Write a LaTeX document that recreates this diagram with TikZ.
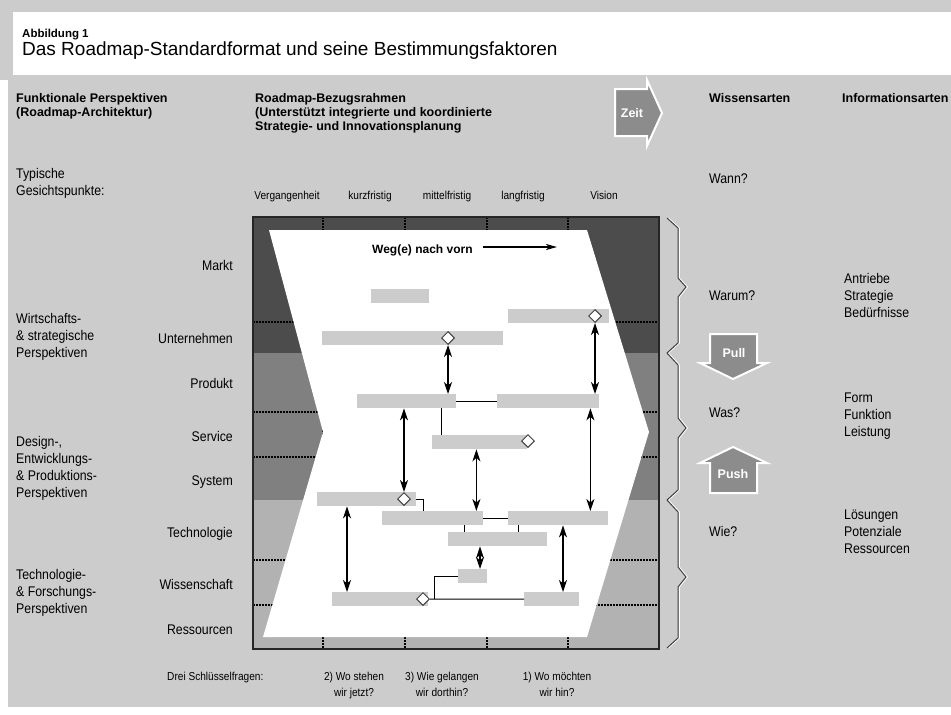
\documentclass[tikz,border=0pt]{standalone}
\usepackage{fontspec}
\setmainfont{Liberation Sans}
\newfontfamily\condfont{Liberation Sans}[FakeStretch=0.88]
\usetikzlibrary{shapes.geometric, arrows.meta, positioning, calc}

\definecolor{panel}{gray}{0.80}
\definecolor{banddark}{gray}{0.30}
\definecolor{bandmid}{gray}{0.50}
\definecolor{bandlight}{gray}{0.70}
\definecolor{bargray}{gray}{0.80}
\definecolor{signgray}{gray}{0.55}

\newcommand\textlines[2][l]{\begin{tabular}[t]{@{}#1@{}}#2\end{tabular}}
\newcommand\bracepath{(667,218) -- (678,228) -- (678,278) -- (686,287) -- (678,297) -- (678,343) -- (667,353) -- (678,365) -- (678,418) -- (686,428) -- (678,438) -- (678,490) -- (667,500) -- (678,512) -- (678,567) -- (686,577) -- (678,587) -- (678,638) -- (667,648)}

\begin{document}
\begin{tikzpicture}[x=1pt, y=-1pt,
  every node/.style={inner sep=0pt},
  txt/.style={font=\condfont\fontsize{14}{17}\selectfont},
  small/.style={font=\condfont\fontsize{11.5}{16.7}\selectfont},
  head/.style={font=\bfseries\fontsize{12.5}{14.3}\selectfont, anchor=base west},
  bar/.style={fill=bargray, minimum height=14pt, anchor=north west},
  mile/.style={diamond, draw=black!75, fill=white, line width=1pt, minimum size=13pt},
  link/.style={{Stealth[length=12pt,width=8pt,inset=3.5pt]}-{Stealth[length=12pt,width=8pt,inset=3.5pt]}, line width=1.2pt},
  conn/.style={line width=1pt},
  sep/.style={line width=1.3pt, dash pattern=on 1.8pt off 1.2pt},
  brace/.style={line width=1pt, black!75, line join=miter},
  sign/.style={fill=signgray, draw=white, line width=2pt, line join=miter},
  signtxt/.style={font=\bfseries\fontsize{12.5}{14}\selectfont, text=white, anchor=base}]

  \useasboundingbox (0,0) rectangle (951,715);
  \fill[white] (0,0) rectangle (951,715);
  \fill[panel] (0,0) rectangle (951,80);
  \fill[panel] (8,80) rectangle (951,707);
  \fill[white] (13,12) rectangle (951,75);

  \node (abb) [anchor=base west, font=\bfseries\fontsize{11.5}{14}\selectfont] at (22,37) {Abbildung 1};
  \node (title) [anchor=base west, font=\fontsize{19}{22}\selectfont] at (22,55) {Das Roadmap-Standardformat und seine Bestimmungsfaktoren};

  \node (funk) [head] at (16,102) {\textlines{Funktionale Perspektiven\\(Roadmap-Architektur)}};
  \node (bezug) [head] at (255,102) {\textlines{Roadmap-Bezugsrahmen\\(Unterstützt integrierte und koordinierte\\Strategie- und Innovationsplanung}};
  \node (wiss) [head] at (709,102) {Wissensarten};
  \node (info) [head] at (842,102) {Informationsarten};

  \draw[sign] (615,89) -- (647,89) -- (647,80) -- (662,113) -- (647,146) -- (647,136) -- (615,136) -- cycle;
  \node (zeit) [signtxt] at (632,117) {Zeit};

  \node (typ) [txt, anchor=base west] at (16,178) {\textlines{Typische\\Gesichtspunkte:}};
  \node (wirt) [txt, anchor=base west] at (16,323) {\textlines{Wirtschafts-\\\& strategische\\Perspektiven}};
  \node (design) [txt, anchor=base west] at (16,446) {\textlines{Design-,\\Entwicklungs-\\\& Produktions-\\Perspektiven}};
  \node (techf) [txt, anchor=base west] at (16,579) {\textlines{Technologie-\\\& Forschungs-\\Perspektiven}};

  \node (markt) [txt, anchor=base east] at (233,270) {Markt};
  \node (untern) [txt, anchor=base east] at (233,343) {Unternehmen};
  \node (produkt) [txt, anchor=base east] at (233,388) {Produkt};
  \node (service) [txt, anchor=base east] at (233,441) {Service};
  \node (system) [txt, anchor=base east] at (233,485) {System};
  \node (techno) [txt, anchor=base east] at (233,537) {Technologie};
  \node (wissen) [txt, anchor=base east] at (233,589) {Wissenschaft};
  \node (ressou) [txt, anchor=base east] at (233,634) {Ressourcen};

  \node (verg) [small, anchor=base] at (287,199.5) {Vergangenheit};
  \node (kurz) [small, anchor=base] at (370,199.5) {kurzfristig};
  \node (mittel) [small, anchor=base] at (447,199.5) {mittelfristig};
  \node (lang) [small, anchor=base] at (523,199.5) {langfristig};
  \node (vision) [small, anchor=base] at (604,199.5) {Vision};

  \fill[banddark] (253,217) rectangle (659,353);
  \fill[bandmid] (253,353) rectangle (659,500);
  \fill[bandlight] (253,500) rectangle (659,649);
  \draw[sep] (253,322) -- (659,322) (253,412) -- (659,412) (253,457) -- (659,457)
    (253,560) -- (659,560) (253,605) -- (659,605);
  \draw[sep] (323,217) -- (323,649) (405,217) -- (405,649) (487,217) -- (487,649) (568,217) -- (568,649);
  \fill[white] (269,230) -- (587,230) -- (649,432) -- (587,637) -- (263,637) -- (323,432) -- cycle;
  \draw[line width=1.5pt, black!85] (253,217) rectangle (659,649);

  \node (weg) [anchor=base west, font=\bfseries\fontsize{12}{14}\selectfont] at (372,253) {Weg(e) nach vorn};
  \coordinate (wegStart) at ([xshift=10pt]weg.east);
  \coordinate (wegEnd) at (557,247);
  \draw[-{Stealth[length=11pt,width=6pt,inset=3pt]}, line width=1.3pt] (wegStart |- wegEnd) -- (wegEnd);

  \node (barA) [bar, minimum width=58pt] at (371,289) {};
  \node (barB) [bar, minimum width=101pt] at (508,309) {};
  \node (barC) [bar, minimum width=181pt] at (322,331) {};
  \node (barD) [bar, minimum width=99pt] at (357,394) {};
  \node (barE) [bar, minimum width=102pt] at (497,394) {};
  \node (barF) [bar, minimum width=95pt] at (432,435) {};
  \node (barG) [bar, minimum width=99pt] at (317,492) {};
  \node (barH) [bar, minimum width=101pt] at (382,511) {};
  \node (barI) [bar, minimum width=100pt] at (508,511) {};
  \node (barJ) [bar, minimum width=99pt] at (448,532) {};
  \node (barK) [bar, minimum width=29pt] at (458,569) {};
  \node (barL) [bar, minimum width=96pt] at (332,592) {};
  \node (barM) [bar, minimum width=55pt] at (524,592) {};

  \coordinate (pD) at ([xshift=-15pt]barD.south east);
  \coordinate (pH) at ([xshift=82pt]barH.south west);
  \coordinate (pI) at ([xshift=10pt]barI.south west);
  \draw[conn] (barD.east) -- (barE.west);
  \draw[conn] (pD) -- (pD |- barF.north);
  \draw[conn] (barG.east) -| ([xshift=41pt]barH.north west);
  \draw[conn] (barH.east) -- (barI.west);
  \draw[conn] (pH) -- (pH |- barJ.north);
  \draw[conn] (pI) -- (pI |- barJ.north);

  \node (msB) [mile] at (595,316) {};
  \node (msC) [mile] at (448,338) {};
  \node (msF) [mile] at (528,441) {};
  \node (msG) [mile] at (404,499) {};
  \node (msL) [mile] at (423,599) {};
  \draw[conn] (barK.west) -| ([xshift=4pt]msL.east);
  \draw[conn] (msL.east) -- (barM.west);

  \coordinate (pF) at ([xshift=-7pt]barH.north east);
  \coordinate (pE) at ([xshift=-9pt]barE.south east);
  \coordinate (pG) at ([xshift=30pt]barG.south west);
  \coordinate (pK) at ([xshift=22pt]barK.north west);
  \coordinate (pM) at ([xshift=39pt]barM.north west);
  \draw[link] (msC.south) -- (msC.south |- barD.north);
  \draw[link] (msB.south) -- (msB.south |- barE.north);
  \draw[link] (msG.north |- barD.south) -- (msG.north);
  \draw[link] (pF |- barF.south) -- (pF);
  \draw[link] (pE) -- (pE |- barI.north);
  \draw[link] (pG) -- (pG |- barL.north);
  \draw[link, line width=1.7pt] (pK |- barJ.south) -- (pK);
  \draw[link] (pM |- barI.south) -- (pM);

  \draw[white, line width=1pt, xshift=1.3pt, line join=miter] \bracepath;
  \draw[brace] \bracepath;

  \node (wann) [txt, anchor=base west] at (709,183) {Wann?};
  \node (warum) [txt, anchor=base west] at (709,300) {Warum?};
  \node (was) [txt, anchor=base west] at (709,417) {Was?};
  \node (wie) [txt, anchor=base west] at (709,536) {Wie?};

  \draw[sign] (710,334) -- (757,334) -- (757,363) -- (767,363) -- (733,379) -- (700,363) -- (710,363) -- cycle;
  \node (pull) [signtxt] at (734,357) {Pull};
  \draw[sign] (710,493) -- (710,463) -- (700,463) -- (733,447) -- (767,463) -- (757,463) -- (757,493) -- cycle;
  \node (push) [signtxt] at (733,478) {Push};

  \node (antr) [txt, anchor=base west] at (844,283) {\textlines{Antriebe\\Strategie\\Bedürfnisse}};
  \node (form) [txt, anchor=base west] at (844,402) {\textlines{Form\\Funktion\\Leistung}};
  \node (loes) [txt, anchor=base west] at (844,519) {\textlines{Lösungen\\Potenziale\\Ressourcen}};

  \node (drei) [small, anchor=base west] at (167,680) {Drei Schlüsselfragen:};
  \node (q2) [small, anchor=base] at (354,680) {\textlines[c]{2) Wo stehen\\wir jetzt?}};
  \node (q3) [small, anchor=base] at (442,680) {\textlines[c]{3) Wie gelangen\\wir dorthin?}};
  \node (q1) [small, anchor=base] at (557,680) {\textlines[c]{1) Wo möchten\\wir hin?}};
\end{tikzpicture}
\end{document}
